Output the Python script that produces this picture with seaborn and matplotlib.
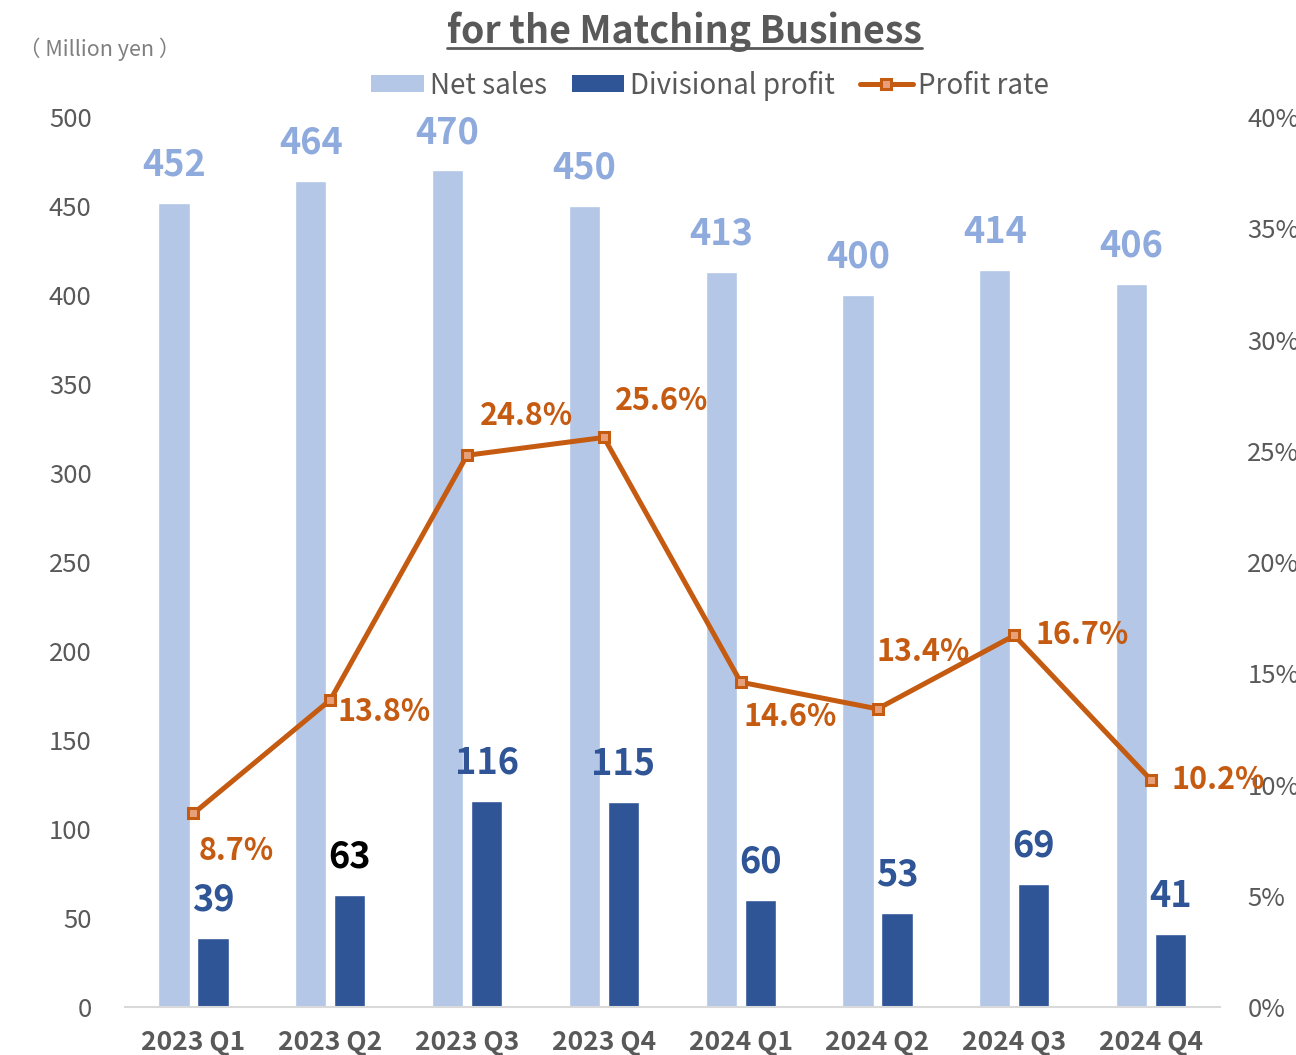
import numpy as np
import pandas as pd
import matplotlib
matplotlib.use("Agg")
import matplotlib.pyplot as plt
from matplotlib.lines import Line2D
from matplotlib.patches import Patch
from matplotlib.ticker import MultipleLocator, FuncFormatter
import seaborn as sns


QUARTERS = ["2023 Q1", "2023 Q2", "2023 Q3", "2023 Q4",
            "2024 Q1", "2024 Q2", "2024 Q3", "2024 Q4"]
NET_SALES = [452, 464, 470, 450, 413, 400, 414, 406]
DIV_PROFIT = [39, 63, 116, 115, 60, 53, 69, 41]
PROFIT_RATE = [8.7, 13.8, 24.8, 25.6, 14.6, 13.4, 16.7, 10.2]

LIGHT = "#B4C7E7"
LIGHT_TXT = "#8FAADC"
DARK = "#2F5597"
ORANGE = "#C55A11"
GRAY = "#595959"

# label offsets (points) for the profit-rate labels, left aligned
RATE_OFFSETS = [(4, -27), (5, -9), (9, 28), (8, 26), (2, -25), (-1, 41), (15, 0), (15, 0)]
PROFIT_LABEL_COLORS = [DARK, "black", DARK, DARK, DARK, DARK, DARK, DARK]


def main():
    sns.set_theme(style="white")
    plt.rcParams["font.family"] = ["Noto Sans CJK JP", "DejaVu Sans"]

    df = pd.DataFrame({
        "quarter": QUARTERS * 2,
        "value": NET_SALES + DIV_PROFIT,
        "series": ["Net sales"] * len(QUARTERS) + ["Divisional profit"] * len(QUARTERS),
    })

    fig = plt.figure(figsize=(12.96, 10.55), dpi=100)
    ax = fig.add_axes([0.0965, 0.0455, 0.8445, 0.8435])

    sns.barplot(
        data=df, x="quarter", y="value", hue="series",
        palette=[LIGHT, DARK], width=0.57, gap=0.2,
        ax=ax, legend=False, saturation=1, errorbar=None
    )

    ax.set_xlim(-0.5, len(QUARTERS) - 0.5)
    ax.set_ylim(0, 500)
    ax.yaxis.set_major_locator(MultipleLocator(50))
    ax.set_xlabel("")
    ax.set_ylabel("")
    for side in ["top", "left", "right"]:
        ax.spines[side].set_visible(False)
    ax.spines["bottom"].set_color("#D9D9D9")
    ax.spines["bottom"].set_linewidth(1.5)
    ax.tick_params(axis="y", length=0, pad=24, labelsize=18.5, labelcolor=GRAY)
    ax.tick_params(axis="x", length=0, pad=16, labelsize=19, labelcolor=GRAY)
    for lbl in ax.get_xticklabels():
        lbl.set_fontweight("bold")

    # bar value labels
    for container, colors, txt_color in [
        (ax.containers[0], None, LIGHT_TXT),
        (ax.containers[1], PROFIT_LABEL_COLORS, None),
    ]:
        for i, bar in enumerate(container.patches):
            c = colors[i] if colors else txt_color
            ax.annotate(
                f"{bar.get_height():.0f}",
                (bar.get_x() + bar.get_width() / 2, bar.get_height()),
                xytext=(0, 14), textcoords="offset points",
                ha="center", va="bottom", fontsize=26, fontweight="bold", color=c
            )

    ax2 = ax.twinx()
    x_pos = np.arange(len(QUARTERS))
    sns.lineplot(
        x=x_pos, y=PROFIT_RATE, ax=ax2, color=ORANGE, linewidth=3.6,
        marker="s", markersize=7, markeredgecolor=ORANGE,
        markerfacecolor="#E8A07A", markeredgewidth=2.2
    )
    ax2.set_ylim(0, 40)
    ax2.set_xlim(-0.5, len(QUARTERS) - 0.5)
    ax2.yaxis.set_major_locator(MultipleLocator(5))
    ax2.yaxis.set_major_formatter(FuncFormatter(lambda v, _: f"{v:.0f}%"))
    ax2.tick_params(axis="y", length=0, pad=20, labelsize=18.5, labelcolor=GRAY)
    ax2.set_ylabel("")
    for side in ["top", "left", "right", "bottom"]:
        ax2.spines[side].set_visible(False)

    for x, y, off in zip(x_pos, PROFIT_RATE, RATE_OFFSETS):
        ax2.annotate(
            f"{y:.1f}%", (x, y), xytext=off, textcoords="offset points",
            ha="left", va="center", fontsize=22, fontweight="bold", color=ORANGE
        )

    # legend
    handles = [
        Patch(facecolor=LIGHT, edgecolor="none", label="Net sales"),
        Patch(facecolor=DARK, edgecolor="none", label="Divisional profit"),
        Line2D([], [], color=ORANGE, linewidth=3.6, marker="s", markersize=7,
               markerfacecolor="#E8A07A", markeredgecolor=ORANGE,
               markeredgewidth=2.2, label="Profit rate"),
    ]
    leg = fig.legend(
        handles=handles, loc="center", bbox_to_anchor=(0.548, 0.919),
        ncol=3, frameon=False, fontsize=20, handlelength=1.9,
        handleheight=0.55, handletextpad=0.2, columnspacing=0.9
    )
    for t in leg.get_texts():
        t.set_color(GRAY)

    title = fig.text(0.528, 0.970, "for the Matching Business", ha="center",
                     va="center", fontsize=27, fontweight="bold", color=GRAY)
    fig.text(0.015, 0.953, "（ Million yen ）", ha="left", va="center",
             fontsize=15.5, color="#7F7F7F")

    # underline the title
    fig.canvas.draw()
    bb = title.get_window_extent().transformed(fig.transFigure.inverted())
    fig.add_artist(Line2D([bb.x0, bb.x1], [bb.y0 + 0.004, bb.y0 + 0.004],
                          transform=fig.transFigure, color=GRAY, linewidth=2))

    fig.savefig("out.png", dpi=100)
    plt.close(fig)


if __name__ == "__main__":
    main()
